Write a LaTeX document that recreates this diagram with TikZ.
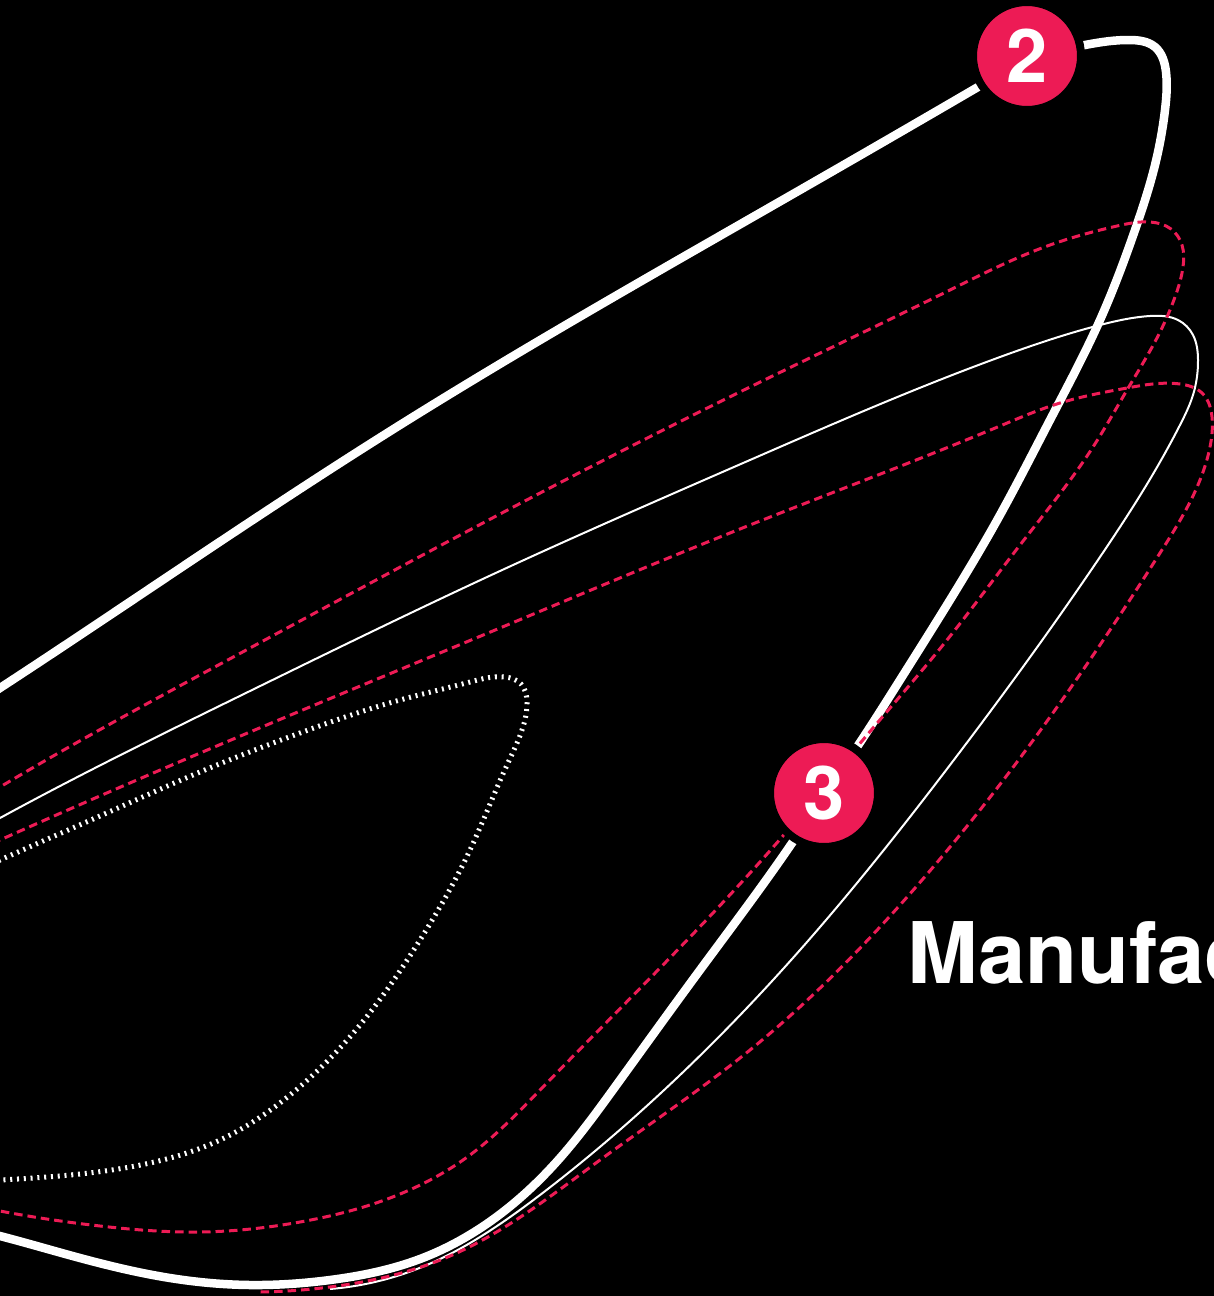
\documentclass[tikz,border=0pt]{standalone}
\usepackage{fontspec}
\setmainfont{TeX Gyre Heros}
\usetikzlibrary{hobby}
\definecolor{accent}{RGB}{237,27,85}
\begin{document}
\begin{tikzpicture}[x=1pt,y=-1pt,
  thickw/.style={draw=white,line width=8.5pt,use Hobby shortcut},
  thinw/.style={draw=white,line width=2pt,use Hobby shortcut},
  reddash/.style={draw=accent,line width=3pt,dash pattern=on 8.5pt off 5pt,use Hobby shortcut},
  dotw/.style={draw=white,line width=5pt,dash pattern=on 2pt off 4.8pt,use Hobby shortcut},
  badge/.style={circle,fill=accent,draw=black,line width=8pt,minimum size=108pt,inner sep=0pt,text=white,font=\bfseries\fontsize{74}{74}\selectfont},
  title/.style={text=white,inner sep=0pt,anchor=base west,font=\bfseries\fontsize{85}{85}\selectfont}]
\useasboundingbox (0,0) rectangle (1214,1296);
\fill[black] (0,0) rectangle (1214,1296);
\clip (0,0) rectangle (1214,1296);

% thick white loop
\draw[thickw] (-20,701) .. (0,688) .. (200,555) .. (400,425) .. (600,305) .. (800,190) .. (978,87) .. (1030,60) .. (1085,45) .. (1130,40) .. (1155,47) .. (1166,72) .. (1165,110) .. (1155,165) .. (1135,230) .. (1100,320) .. (1050,420) .. (1000,515) .. (950,600) .. (900,680) .. (857,747) .. (823,797) .. (790,846) .. (700,970) .. (615,1087) .. (560,1158) .. (495,1218) .. (420,1259) .. (330,1280) .. (250,1285) .. (170,1278) .. (80,1258) .. (0,1236) .. (-20,1231);

% thin white loop
\draw[thinw] (-20,829) .. (0,818) .. (250,691) .. (500,571) .. (750,460) .. (1000,357) .. (1100,325) .. (1150,316) .. (1178,320) .. (1193,335) .. (1198,360) .. (1193,395) .. (1180,425) .. (1160,462) .. (1100,557) .. (950,765) .. (800,950) .. (650,1103) .. (540,1195) .. (417,1269) .. (330,1289);

% dotted white loop
\draw[dotw] (-20,869) .. (0,860) .. (100,816) .. (200,772) .. (300,733) .. (400,700) .. (470,682) .. (505,677) .. (521,684) .. (527,702) .. (523,727) .. (507,765) .. (470,850) .. (420,940) .. (360,1025) .. (290,1095) .. (220,1140) .. (150,1163) .. (80,1174) .. (0,1180) .. (-20,1181);

% red dashed loop A
\draw[reddash] (-20,799) .. (0,787) .. (250,648) .. (500,514) .. (750,387) .. (950,290) .. (1050,245) .. (1117,226) .. (1150,222) .. (1171,229) .. (1182,245) .. (1183,267) .. (1175,297) .. (1160,332) .. (1127,390) .. (1093,447) .. (1020,545) .. (947,640) .. (857,747) .. (820,792) .. (782,837) .. (660,968) .. (540,1090) .. (470,1155) .. (390,1198) .. (300,1222) .. (200,1232) .. (100,1226) .. (0,1211) .. (-20,1207);

% red dashed loop B
\draw[reddash] (-20,849) .. (0,840) .. (250,732) .. (500,628) .. (750,525) .. (1000,426) .. (1060,403) .. (1127,388) .. (1180,384) .. (1202,393) .. (1212,417) .. (1210,447) .. (1200,480) .. (1160,553) .. (1050,717) .. (900,905) .. (750,1050) .. (600,1160) .. (450,1256) .. (330,1287) .. (260,1292);

% badges
\node[badge] (b2) at (1027,56) {2};
\node[badge] (b3) at (824,793) {3};

% title
\node[title] (t) at (907,983) {Manufac};
\end{tikzpicture}
\end{document}
